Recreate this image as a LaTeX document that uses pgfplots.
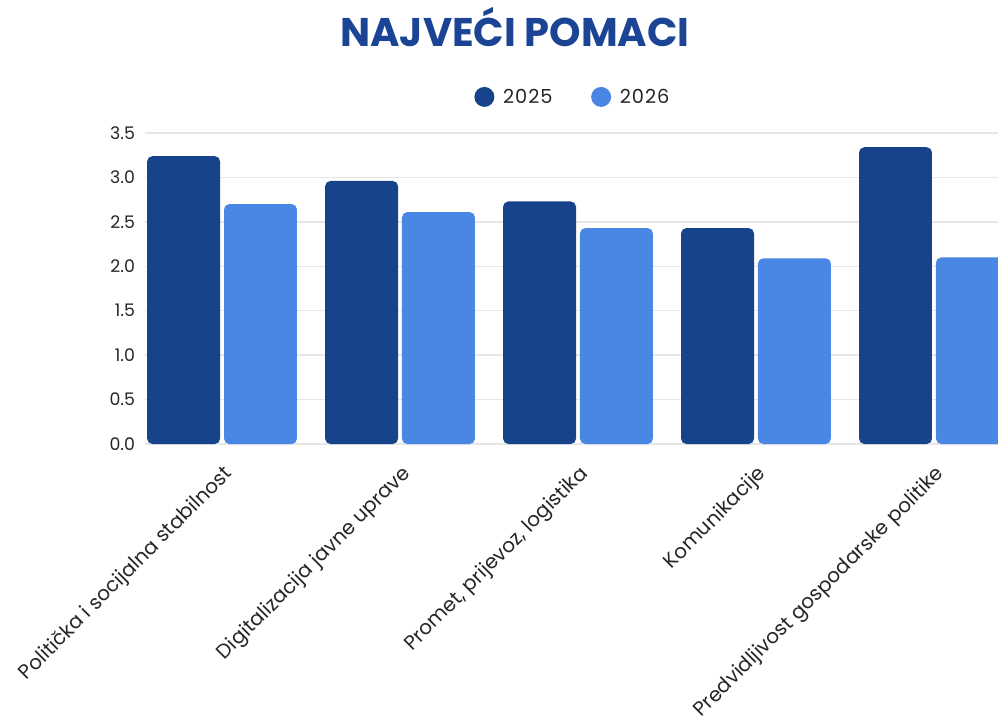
\documentclass[border=0pt]{standalone}
\usepackage{fontspec}
\setmainfont{Poppins}
\newfontfamily\legfont[LetterSpace=5]{Poppins}
\usepackage{pgfplots}
\pgfplotsset{compat=1.18}
\definecolor{dark}{HTML}{17438A}
\definecolor{light}{HTML}{4A86E4}
\definecolor{titleblue}{HTML}{1B4594}
\definecolor{gridgray}{HTML}{E6E6E6}
\definecolor{txt}{HTML}{262626}

\begin{document}
\begin{tikzpicture}[x=0.75pt,y=0.75pt]
\useasboundingbox (0,0) rectangle (998,722);
\node[anchor=base, text=titleblue, font=\bfseries\fontsize{30}{36}\selectfont] at (515,675) {NAJVEĆI POMACI};
\begin{axis}[
    at={(108.75pt,208.5pt)}, anchor=south west,
    scale only axis,
    width=639.75pt, height=233.25pt,
    xmin=-0.433, xmax=4.36,
    ymin=0, ymax=3.5,
    axis line style={draw=none},
    major tick length=0pt,
    ytick={0,0.5,...,3.5},
    /pgf/number format/fixed, /pgf/number format/fixed zerofill,
    /pgf/number format/precision=1, /pgf/number format/assume math mode=true,
    yticklabel style={text=txt, font=\fontsize{13}{15}\selectfont, xshift=-4pt},
    ymajorgrids, grid style={gridgray, line width=1pt},
    xtick={0,1,2,3,4},
    xticklabels={Politička i socijalna stabilnost, Digitalizacija javne uprave, {Promet, prijevoz, logistika}, Komunikacije, Predvidljivost gospodarske politike},
    xticklabel style={rotate=45, anchor=north east, text=txt, font=\fontsize{15}{17}\selectfont, xshift=-7pt, yshift=-7pt},
    ybar, bar width=0.41,
    legend style={at={(0.502,1.116)}, anchor=center, draw=none, fill=none,
        legend columns=-1, font=\legfont\fontsize{14.5}{16}\selectfont, text=txt,
        /tikz/every odd column/.append style={column sep=4.5pt},
        /tikz/every even column/.append style={column sep=27pt}},
    legend image code/.code={\fill[#1] (4pt,0pt) circle (7.5pt);},
]
\addplot[fill=dark, draw=none, bar shift=-0.216, rounded corners=4pt] coordinates {
    (0,3.24) (1,2.96) (2,2.73) (3,2.43) (4,3.34)
};
\addplot[fill=light, draw=none, bar shift=0.216, rounded corners=4pt] coordinates {
    (0,2.70) (1,2.61) (2,2.43) (3,2.09) (4,2.10)
};
\legend{2025, 2026}
\end{axis}
\end{tikzpicture}
\end{document}
